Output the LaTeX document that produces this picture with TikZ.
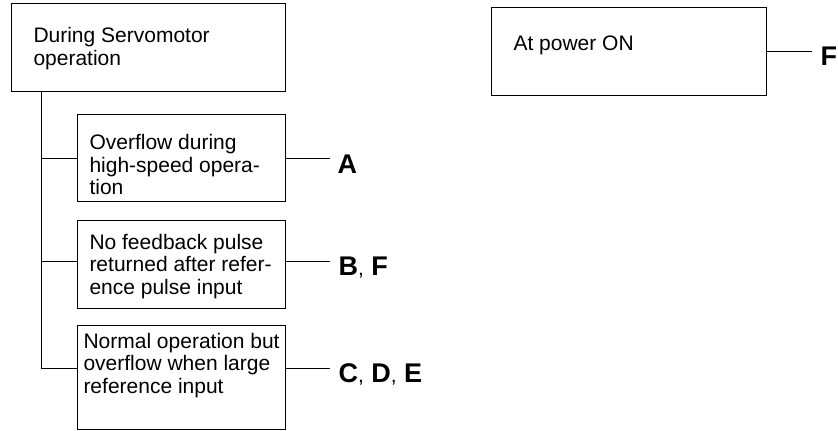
\documentclass[tikz,border=0pt]{standalone}
\usepackage{fontspec}
\setmainfont{Liberation Sans}
\newcommand{\cm}{{\normalfont\fontsize{21}{22}\selectfont,}}
\begin{document}
\begin{tikzpicture}[x=1pt,y=-1pt,line width=1pt,
  box/.style={draw,rectangle,anchor=north west,inner sep=0pt},
  txt/.style={anchor=north west,align=left,inner sep=0pt,font=\fontsize{21}{22.5}\selectfont},
  lab/.style={anchor=base west,inner sep=0pt,font=\fontsize{27}{30}\selectfont\bfseries}]
\useasboundingbox (0,0) rectangle (838,431);
% boxes
\node[box,minimum width=274pt,minimum height=88pt] (s) at (11,3) {};
\node[box,minimum width=208pt,minimum height=87pt] (a) at (77,114) {};
\node[box,minimum width=208pt,minimum height=88pt] (b) at (77,220) {};
\node[box,minimum width=208pt,minimum height=104pt] (c) at (77,325) {};
\node[box,minimum width=275pt,minimum height=88pt] (p) at (491,7) {};
% texts
\node[txt] (st) at (33,27) {During Servomotor\\operation};
\node[txt] (at) at (89,134) {Overflow during\\high-speed opera-\\tion};
\node[txt] (bt) at (89,233.5) {No feedback pulse\\returned after refer-\\ence pulse input};
\node[txt] (ct) at (83,332.5) {Normal operation but\\overflow when large\\reference input};
\node[txt] (pt) at (513,35) {At power ON};
% labels
\node[lab] (la) at (337,173) {A};
\node[lab] (lb) at (338,275) {B\cm{} F};
\node[lab] (lc) at (338,382) {C\cm{} D\cm{} E};
\node[lab] (lp) at (820,65) {F};
% branch levels
\coordinate (ya) at (0,158);
\coordinate (yb) at (0,261);
\coordinate (yc) at (0,368);
\coordinate (yp) at (0,51);
\coordinate (t0) at ([xshift=30pt]s.south west);
% connectors
\draw (t0) |- (c.west |- yc);
\draw (t0 |- ya) -- (a.west |- ya);
\draw (t0 |- yb) -- (b.west |- yb);
\draw (a.east |- ya) -- ([xshift=-7pt]la.west |- ya);
\draw (b.east |- yb) -- ([xshift=-8pt]lb.west |- yb);
\draw (c.east |- yc) -- ([xshift=-8pt]lc.west |- yc);
\draw (p.east |- yp) -- ([xshift=-8pt]lp.west |- yp);
\end{tikzpicture}
\end{document}
